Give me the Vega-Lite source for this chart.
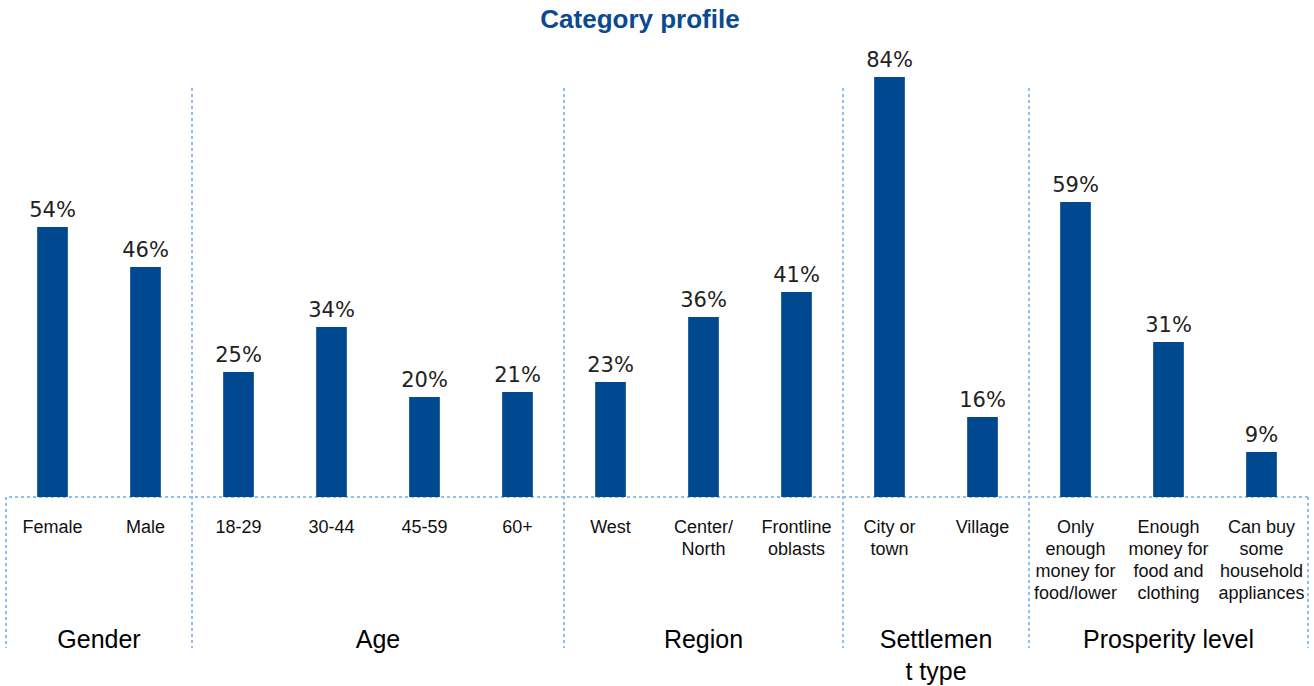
{
  "$schema": "https://vega.github.io/schema/vega-lite/v6.json",
  "width": 1302,
  "height": 635,
  "autosize": {"type": "none"},
  "padding": {"left": 6, "top": 47, "right": 6, "bottom": 4},
  "background": "white",
  "title": {"text": "Category profile", "font": "Liberation Sans", "fontSize": 26, "fontWeight": "bold", "color": "#0b4a90", "anchor": "middle", "dx": -17, "offset": -7, "baseline": "alphabetic"},
  "config": {"view": {"stroke": null}},
  "datasets": {
    "bars": [
      {"group": "Gender", "cat": "Female", "label": "Female", "value": 0.54},
      {"group": "Gender", "cat": "Male", "label": "Male", "value": 0.46},
      {"group": "Age", "cat": "18-29", "label": "18-29", "value": 0.25},
      {"group": "Age", "cat": "30-44", "label": "30-44", "value": 0.34},
      {"group": "Age", "cat": "45-59", "label": "45-59", "value": 0.20},
      {"group": "Age", "cat": "60+", "label": "60+", "value": 0.21},
      {"group": "Region", "cat": "West", "label": "West", "value": 0.23},
      {"group": "Region", "cat": "Center/North", "label": "Center/|North", "value": 0.36},
      {"group": "Region", "cat": "Frontline oblasts", "label": "Frontline|oblasts", "value": 0.41},
      {"group": "Settlement type", "cat": "City or town", "label": "City or|town", "value": 0.84},
      {"group": "Settlement type", "cat": "Village", "label": "Village", "value": 0.16},
      {"group": "Prosperity level", "cat": "Only enough money for food/lower", "label": "Only|enough|money for|food/lower", "value": 0.59},
      {"group": "Prosperity level", "cat": "Enough money for food and clothing", "label": "Enough|money for|food and|clothing", "value": 0.31},
      {"group": "Prosperity level", "cat": "Can buy some household appliances", "label": "Can buy|some|household|appliances", "value": 0.09}
    ],
    "separators": [
      {"cat": "18-29"}, {"cat": "West"}, {"cat": "City or town"}, {"cat": "Only enough money for food/lower"}
    ],
    "groupsEven": [
      {"group": "Gender", "cat": "Male"},
      {"group": "Age", "cat": "45-59"},
      {"group": "Settlemen\nt type", "cat": "Village"}
    ],
    "groupsOdd": [
      {"group": "Region", "cat": "Center/North"},
      {"group": "Prosperity level", "cat": "Enough money for food and clothing"}
    ]
  },
  "resolve": {"scale": {"x": "shared", "y": "shared"}},
  "layer": [
    {
      "data": {"name": "separators"},
      "mark": {"type": "rule", "color": "#8fbfee", "strokeWidth": 2, "strokeDash": [3, 3]},
      "encoding": {
        "x": {"field": "cat", "type": "nominal", "bandPosition": 0, "axis": null,
              "scale": {"domain": ["Female","Male","18-29","30-44","45-59","60+","West","Center/North","Frontline oblasts","City or town","Village","Only enough money for food/lower","Enough money for food and clothing","Can buy some household appliances"], "paddingInner": 0, "paddingOuter": 0}},
        "y": {"datum": 0.818, "type": "quantitative", "axis": null, "scale": {"domain": [-0.37, 0.9], "nice": false, "zero": false}},
        "y2": {"datum": -0.302}
      }
    },
    {
      "data": {"values": [{"cat": "Female"}]},
      "mark": {"type": "rule", "color": "#8fbfee", "strokeWidth": 2, "strokeDash": [3, 3]},
      "encoding": {
        "x": {"field": "cat", "type": "nominal", "bandPosition": 0, "axis": null},
        "y": {"datum": 0, "type": "quantitative", "axis": null},
        "y2": {"datum": -0.302}
      }
    },
    {
      "data": {"values": [{"cat": "Can buy some household appliances"}]},
      "mark": {"type": "rule", "color": "#8fbfee", "strokeWidth": 2, "strokeDash": [3, 3]},
      "encoding": {
        "x": {"field": "cat", "type": "nominal", "bandPosition": 1, "axis": null},
        "y": {"datum": 0, "type": "quantitative", "axis": null},
        "y2": {"datum": -0.302}
      }
    },
    {
      "data": {"values": [{"line": "baseline"}]},
      "mark": {"type": "rule", "color": "#8fbfee", "strokeWidth": 2, "strokeDash": [3, 3]},
      "encoding": {
        "y": {"datum": 0, "type": "quantitative", "axis": null}
      }
    },
    {
      "data": {"name": "bars"},
      "mark": {"type": "bar", "color": "#004990", "width": {"band": 0.33}},
      "encoding": {
        "x": {"field": "cat", "type": "nominal", "axis": null},
        "y": {"field": "value", "type": "quantitative", "axis": null},
        "y2": {"datum": 0}
      }
    },
    {
      "data": {"name": "bars"},
      "mark": {"type": "text", "font": "DejaVu Sans", "fontSize": 21, "color": "#222222", "baseline": "bottom", "dy": -6},
      "encoding": {
        "x": {"field": "cat", "type": "nominal", "axis": null},
        "y": {"field": "value", "type": "quantitative", "axis": null},
        "text": {"field": "value", "type": "quantitative", "format": ".0%"}
      }
    },
    {
      "data": {"name": "bars"},
      "mark": {"type": "text", "font": "Liberation Sans", "fontSize": 18, "color": "#111111", "baseline": "top", "lineBreak": "|", "lineHeight": 22},
      "encoding": {
        "x": {"field": "cat", "type": "nominal", "axis": null},
        "y": {"datum": -0.044, "type": "quantitative", "axis": null},
        "text": {"field": "label", "type": "nominal"}
      }
    },
    {
      "data": {"name": "groupsEven"},
      "mark": {"type": "text", "font": "Liberation Sans", "fontSize": 25, "color": "#000000", "baseline": "alphabetic", "lineBreak": "\n", "lineHeight": 32},
      "encoding": {
        "x": {"field": "cat", "type": "nominal", "bandPosition": 0, "axis": null},
        "y": {"datum": -0.302, "type": "quantitative", "axis": null},
        "text": {"field": "group", "type": "nominal"}
      }
    },
    {
      "data": {"name": "groupsOdd"},
      "mark": {"type": "text", "font": "Liberation Sans", "fontSize": 25, "color": "#000000", "baseline": "alphabetic", "lineBreak": "\n", "lineHeight": 32},
      "encoding": {
        "x": {"field": "cat", "type": "nominal", "axis": null},
        "y": {"datum": -0.302, "type": "quantitative", "axis": null},
        "text": {"field": "group", "type": "nominal"}
      }
    }
  ]
}
